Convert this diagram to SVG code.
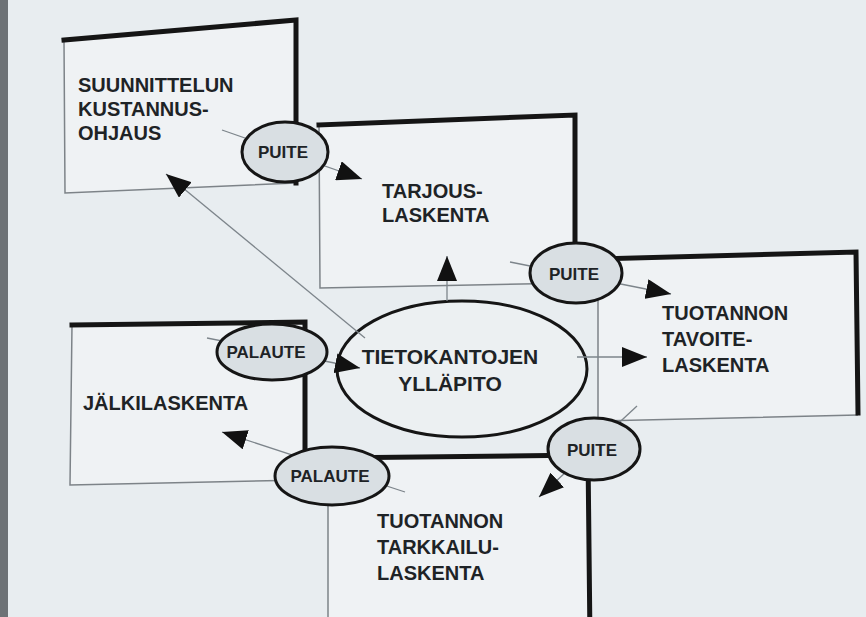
<svg xmlns="http://www.w3.org/2000/svg" width="866" height="617" viewBox="0 0 866 617">
<style>
.bg{fill:#e8edf0}
.box{fill:#eff2f4;stroke:none}
.thick{fill:none;stroke:#151515;stroke-width:5;stroke-linecap:square;stroke-linejoin:miter}
.thin{fill:none;stroke:#7d8388;stroke-width:1.5}
.conn{fill:none;stroke:#7d858b;stroke-width:1.3;marker-end:url(#tri)}
.small{fill:#d9dfe3;stroke:#151515;stroke-width:3}
.big{fill:#ecf0f2;stroke:#151515;stroke-width:3}
.t{font-family:"Liberation Sans",Arial,sans-serif;font-weight:bold;font-size:20px;fill:#1e2326}
.c{font-size:21px}
.s{font-family:"Liberation Sans",Arial,sans-serif;font-weight:bold;font-size:17px;fill:#1e2326}
</style>
<defs>
<marker id="tri" viewBox="0 0 10 8" refX="10" refY="4" markerWidth="25" markerHeight="20" markerUnits="userSpaceOnUse" orient="auto">
<path d="M0,0 L10,4 L0,8 Z" fill="#111"/>
</marker>
</defs>
<rect class="bg" x="0" y="0" width="866" height="617"/>
<rect x="0" y="0" width="8" height="617" fill="#6d7276"/>

<g id="box-suunnittelun">
<polygon class="box" points="64,40 296,20 296,183 65,193"/>
<polyline class="thin" points="296,183 65,193 64,40"/>
<polyline class="thick" points="64,40 296,20 296,183"/>
<text class="t" x="78" y="92">SUUNNITTELUN</text>
<text class="t" x="78" y="116">KUSTANNUS-</text>
<text class="t" x="78" y="140">OHJAUS</text>
</g>

<g id="box-tarjous">
<polygon class="box" points="319,125 575,115 575,283 320,288"/>
<polyline class="thin" points="575,283 320,288 319,125"/>
<polyline class="thick" points="319,125 575,115 575,283"/>
<text class="t" x="382" y="198">TARJOUS-</text>
<text class="t" x="382" y="222">LASKENTA</text>
</g>

<g id="box-tavoite">
<polygon class="box" points="598,259 856,252 858,415 598,421"/>
<polyline class="thin" points="858,415 598,421 598,259"/>
<polyline class="thick" points="598,259 856,252 858,413"/>
<text class="t" x="662" y="320">TUOTANNON</text>
<text class="t" x="662" y="346">TAVOITE-</text>
<text class="t" x="662" y="372">LASKENTA</text>
</g>

<g id="box-jalki">
<polygon class="box" points="72,325 305,322 305,480 70,485"/>
<polyline class="thin" points="305,480 70,485 72,325"/>
<polyline class="thick" points="72,325 305,322 305,470"/>
<text class="t" x="83" y="410">JÄLKILASKENTA</text>
</g>

<g id="box-tarkkailu">
<polygon class="box" points="328,458 588,455 590,640 328,640"/>
<polyline class="thin" points="328,458 328,640"/>
<polyline class="thick" points="328,458 588,455 590,640"/>
<text class="t" x="377" y="528">TUOTANNON</text>
<text class="t" x="377" y="554">TARKKAILU-</text>
<text class="t" x="377" y="580">LASKENTA</text>
</g>

<g id="tietokantojen">
<ellipse class="big" cx="462" cy="369" rx="125" ry="68"/>
<text class="t c" x="450" y="364" text-anchor="middle">TIETOKANTOJEN</text>
<text class="t c" x="450" y="391" text-anchor="middle">YLLÄPITO</text>
</g>

<g id="connectors">
<line class="conn" x1="222" y1="130" x2="362" y2="179"/>
<line class="conn" x1="365" y1="338" x2="166" y2="174"/>
<line class="conn" x1="447" y1="301" x2="447" y2="256"/>
<line class="conn" x1="510" y1="262" x2="671" y2="294"/>
<line class="conn" x1="577" y1="357" x2="647" y2="357"/>
<line class="conn" x1="207" y1="338" x2="360" y2="368"/>
<line class="conn" x1="405" y1="492" x2="222" y2="432"/>
<line class="conn" x1="637" y1="406" x2="539" y2="497"/>
</g>

<g id="puite-1">
<ellipse class="small" cx="285" cy="152" rx="43" ry="30"/>
<text class="s" x="283" y="158" text-anchor="middle">PUITE</text>
</g>
<g id="puite-2">
<ellipse class="small" cx="576" cy="273" rx="46" ry="30"/>
<text class="s" x="574" y="280" text-anchor="middle">PUITE</text>
</g>
<g id="puite-3">
<ellipse class="small" cx="594" cy="449" rx="46" ry="31"/>
<text class="s" x="592" y="456" text-anchor="middle">PUITE</text>
</g>
<g id="palaute-1">
<ellipse class="small" cx="272" cy="352" rx="55" ry="28"/>
<text class="s" x="266" y="358" text-anchor="middle">PALAUTE</text>
</g>
<g id="palaute-2">
<ellipse class="small" cx="332" cy="476" rx="57" ry="29"/>
<text class="s" x="330" y="482" text-anchor="middle">PALAUTE</text>
</g>
</svg>
